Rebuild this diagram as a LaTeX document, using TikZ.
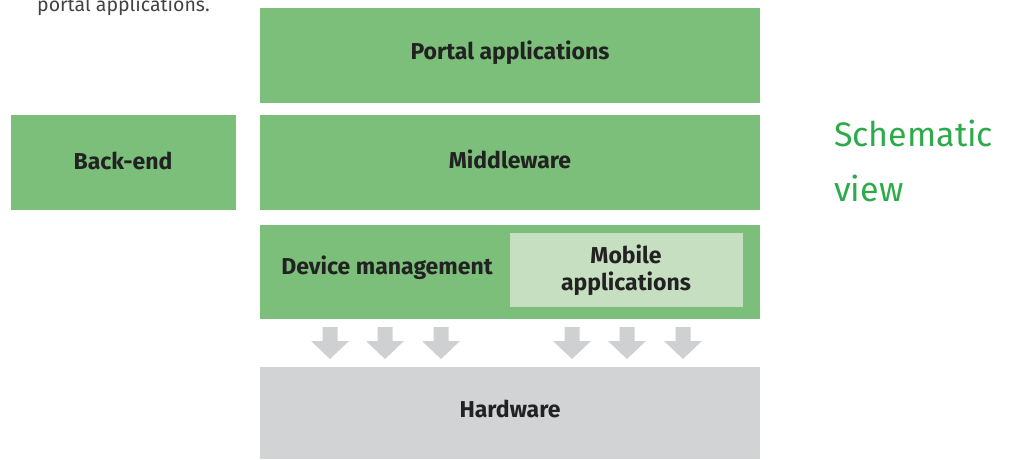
\documentclass[tikz,border=0pt]{standalone}
\usepackage{fontspec}
\setmainfont{Fira Sans}
\definecolor{boxgreen}{HTML}{7BBF7B}
\definecolor{lightgreen}{HTML}{C5DFC0}
\definecolor{hwgray}{HTML}{D2D3D5}
\definecolor{arrowgray}{HTML}{CFD0D2}
\definecolor{txt}{HTML}{222222}
\definecolor{titlegreen}{HTML}{2DAA4A}
\begin{document}
\begin{tikzpicture}[x=1pt,y=-1pt,
  layer/.style={fill=boxgreen,draw=none},
  lbl/.style={font=\fontsize{23}{27}\selectfont\bfseries,text=txt,inner sep=0pt},
  downarrow/.style={fill=arrowgray,draw=none}]
\useasboundingbox (0,0) rectangle (1011,459);
\begin{scope}
\clip (0,0) rectangle (1011,459);
\node[anchor=base west,text=txt!85,font=\fontsize{19.5}{24}\selectfont,inner sep=0pt] (intro) at (37,11) {portal applications.};
\end{scope}
\path[layer] (260,8) rectangle (760,103);
\node[lbl] (portal) at (510,53) {Portal applications};
\path[layer] (260,115) rectangle (760,210);
\node[lbl] (middle) at (510,159) {Middleware};
\path[layer] (11,115) rectangle (236,210);
\node[lbl] (backend) at (123,161) {Back-end};
\path[layer] (260,225) rectangle (760,319);
\node[lbl] (device) at (387,268) {Device management};
\path[fill=lightgreen] (510,233) rectangle (743,307);
\node[lbl,align=center] (mobile) at (626,270) {Mobile\\applications};
\path[fill=hwgray] (260,367) rectangle (760,459);
\node[lbl] (hw) at (510,409) {Hardware};
\foreach \cx in {330,385,441,572,627,683}{
  \path[downarrow] (\cx-7.5,327) -- (\cx+7.5,327) -- (\cx+7.5,341) -- (\cx+19,341) -- (\cx,359) -- (\cx-19,341) -- (\cx-7.5,341) -- cycle;
}
\node[anchor=base west,align=left,text=titlegreen,font=\fontsize{34}{55}\selectfont,inner sep=0pt] (title) at (834,201) {Schematic\\view};
\end{tikzpicture}
\end{document}
